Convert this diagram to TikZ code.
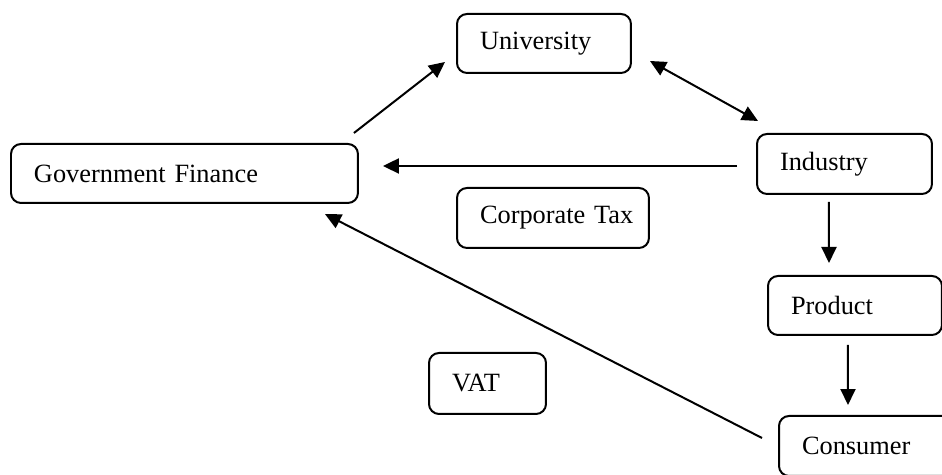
\documentclass[tikz,border=0pt]{standalone}
\usepackage{fontspec}
\setmainfont{Liberation Serif}
\usetikzlibrary{arrows.meta}

\begin{document}
\begin{tikzpicture}[
  x=0.02cm, y=-0.02cm,
  block/.style={rectangle, draw, rounded corners=0.2cm, line width=0.04cm, anchor=north west,
    align=left, inner xsep=0.46cm, inner ysep=0pt, font=\fontsize{15pt}{18pt}\selectfont},
  line/.style={draw, line width=0.04cm, -{Triangle[length=0.32cm, width=0.3cm]}},
  bothline/.style={line, {Triangle[length=0.32cm, width=0.3cm]}-{Triangle[length=0.32cm, width=0.3cm]}}
  ]
\useasboundingbox (0,0) rectangle (942,475);

\node [block, text width=2.56cm, minimum height=1.18cm] (univ) at (456,13) {University};
\node [block, text width=6.02cm, minimum height=1.18cm] (gov) at (10,143) {Government Finance};
\node [block, text width=2.92cm, minimum height=1.2cm] (corp) at (456,187) {\mbox{Corporate Tax}};
\node [block, text width=1.42cm, minimum height=1.22cm] (vat) at (428,352) {VAT};
\node [block, text width=2.58cm, minimum height=1.2cm] (ind) at (756,133) {Industry};
\node [block, text width=2.56cm, minimum height=1.18cm] (prod) at (767,275) {Product};
\node [block, text width=2.68cm, minimum height=1.2cm] (cons) at (778,415) {Consumer};

\path [line] ([shift={(-5,-10)}]gov.north east) -- ([shift={(-11,18.5)}]univ.west);
\path [bothline] ([shift={(18,17.5)}]univ.east) -- ([shift={(2,-12)}]ind.north west);
\path [line] ([shift={(-19,2)}]ind.west) -- ([shift={(24,-7.5)}]gov.east);
\path [line] ([shift={(-15.5,7)}]ind.south) -- ([shift={(-26,-12)}]prod.north);
\path [line] ([shift={(-7,9)}]prod.south) -- ([shift={(-21,-10)}]cons.north);
\path [line] ([shift={(-16,-8)}]cons.west) -- ([shift={(-34,10)}]gov.south east);
\end{tikzpicture}
\end{document}
